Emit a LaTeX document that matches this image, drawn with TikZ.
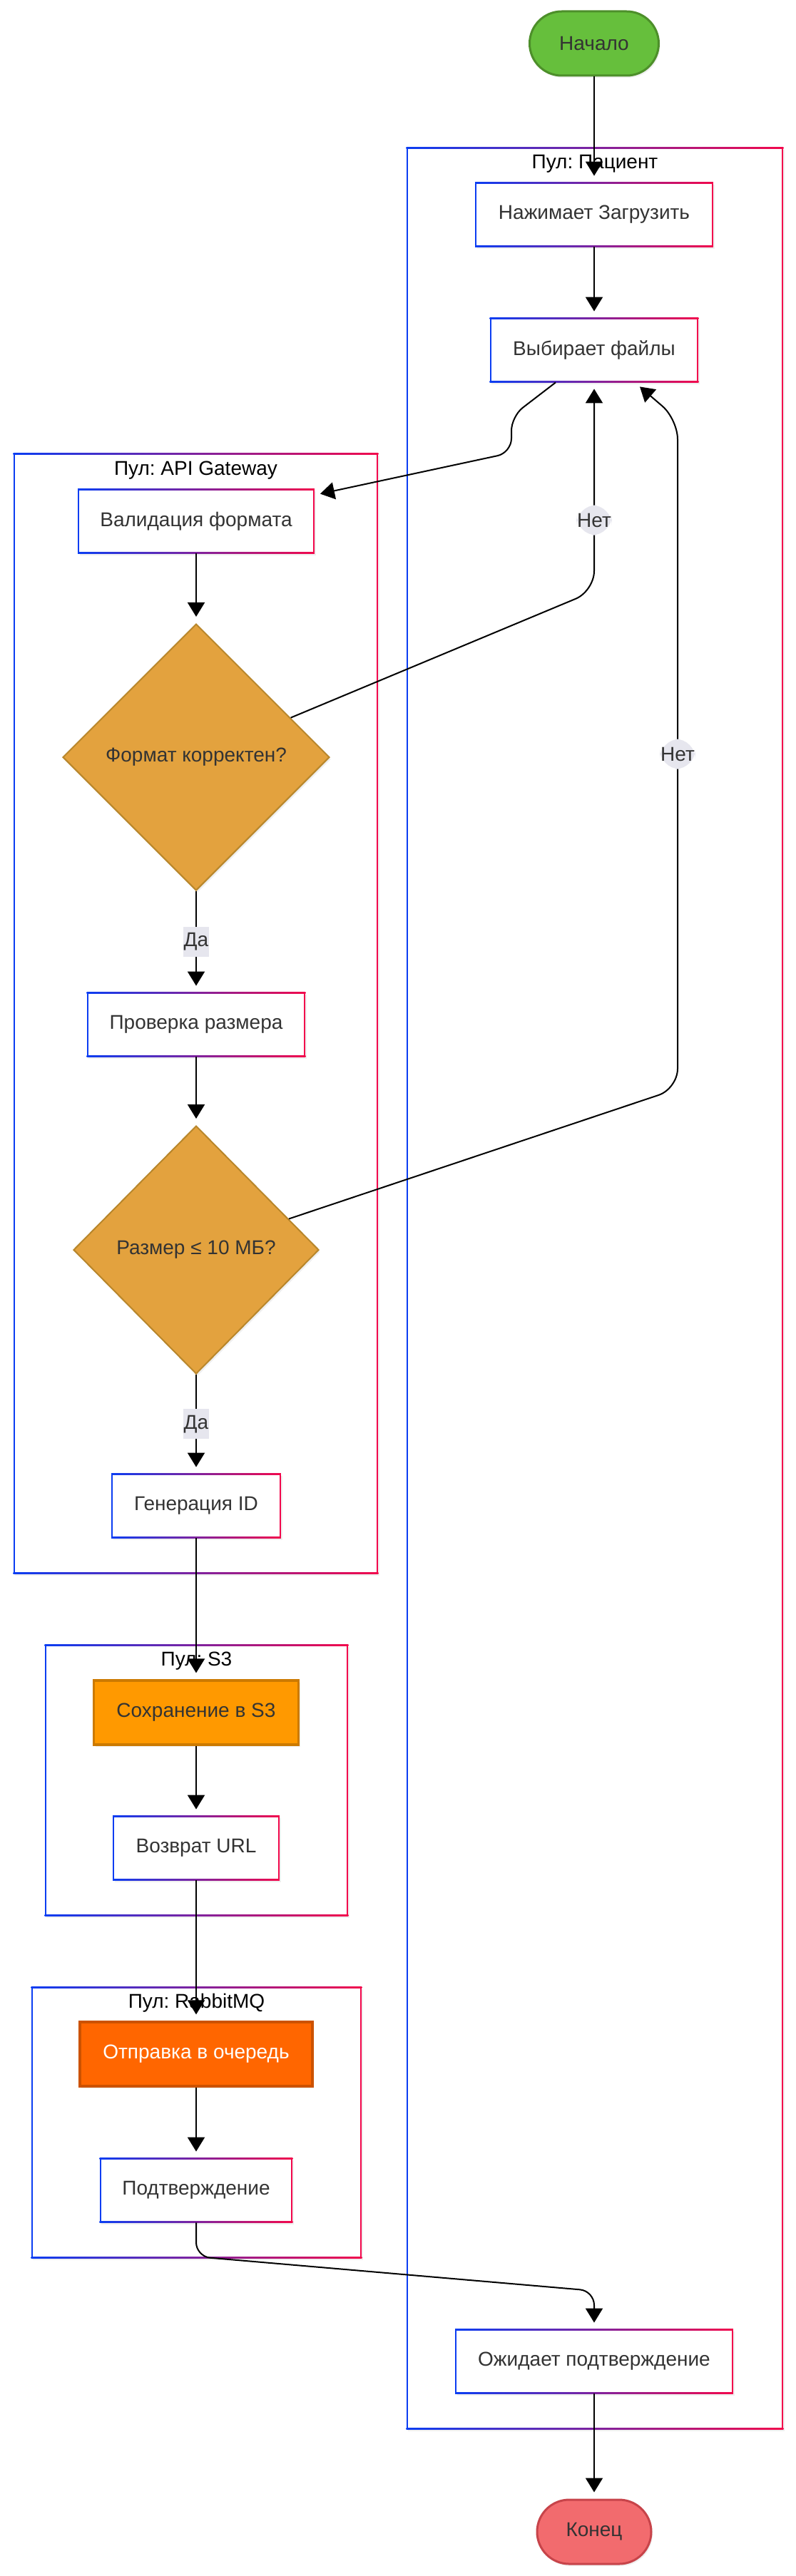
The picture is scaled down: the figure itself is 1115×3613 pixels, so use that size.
\documentclass[tikz,border=0pt]{standalone}
\usepackage{fontspec}
\setmainfont{Liberation Sans}
\usepackage{tikz}
\usetikzlibrary{positioning, arrows.meta, shapes.geometric, shadows}
\frenchspacing

\definecolor{gblue}{HTML}{0B3DF2}
\definecolor{gred}{HTML}{F2084C}
\definecolor{txt}{HTML}{333333}
\definecolor{startfill}{HTML}{66BF3C}
\definecolor{startdraw}{HTML}{4D8F2A}
\definecolor{endfill}{HTML}{F26B6E}
\definecolor{enddraw}{HTML}{C7444A}
\definecolor{decfill}{HTML}{E3A23E}
\definecolor{decdraw}{HTML}{B8862B}
\definecolor{s3fill}{HTML}{FF9900}
\definecolor{s3draw}{HTML}{CC7A00}
\definecolor{mqfill}{HTML}{FF6600}
\definecolor{mqdraw}{HTML}{CC5200}
\definecolor{lblbg}{HTML}{E6E6EE}

% blue-to-red frame round a node
\newcommand{\gframe}[1]{%
  \shade[left color=gblue, right color=gred] (#1.north west) rectangle ([yshift=-1pt]#1.north east);
  \shade[left color=gblue, right color=gred] ([yshift=1pt]#1.south west) rectangle (#1.south east);
  \fill[gblue] (#1.south west) rectangle ([xshift=1pt]#1.north west);
  \fill[gred] ([xshift=-1pt]#1.south east) rectangle (#1.north east);}

\begin{document}
\begin{tikzpicture}[x=0.5pt, y=-0.5pt,
  txtfont/.style={font=\fontsize{14}{16}\selectfont},
  shad/.style={drop shadow={opacity=0.12, shadow xshift=1pt, shadow yshift=-1.5pt}},
  pool/.style={rectangle, fill=white, inner sep=0pt, shad},
  ptitle/.style={anchor=base, text=black, txtfont, inner sep=0pt},
  box/.style={rectangle, fill=white, text=txt, txtfont, minimum height=45pt, inner sep=0pt, shad},
  term/.style={rectangle, rounded corners=22.5pt, line width=1.5pt, text=txt, txtfont, minimum height=45pt, inner sep=0pt, shad},
  decision/.style={diamond, aspect=1, fill=decfill, draw=decdraw, line width=1pt, text=txt, txtfont, inner sep=0pt, shad},
  lbl/.style={fill=lblbg, text=txt, txtfont, inner xsep=0.5pt, inner ysep=0pt, minimum height=21pt},
  arr/.style={-{Triangle[length=10pt, width=12pt]}, line width=1pt, black, shorten >=4.5pt}]
\useasboundingbox (0,0) rectangle (1115,3613);
\fill[white] (0,0) rectangle (1115,3613);

% pools
\node[pool, minimum width=264pt, minimum height=1600pt] (pPat) at (834,1807) {};
\node[pool, minimum width=255.5pt, minimum height=785.5pt] (pApi) at (274.5,1421.5) {};
\node[pool, minimum width=212.5pt, minimum height=190pt] (pS3) at (275.5,2497) {};
\node[pool, minimum width=231.5pt, minimum height=190pt] (pRab) at (275.5,2977) {};
\foreach \p in {pPat,pApi,pS3,pRab} {\gframe{\p}}
\node[ptitle] (tPat) at ([yshift=-15pt]pPat.north) {Пул: Пациент};
\node[ptitle] (tApi) at ([yshift=-15.5pt]pApi.north) {Пул: API Gateway};
\node[ptitle] (tS3) at ([yshift=-15pt]pS3.north) {Пул: S3};
\node[ptitle] (tRab) at ([yshift=-15pt]pRab.north) {Пул: RabbitMQ};

% start / end
\node[term, fill=startfill, draw=startdraw, minimum width=90.5pt] (start) at (833,61) {Начало};
\node[term, fill=endfill, draw=enddraw, minimum width=80pt] (end) at (833,3551) {Конец};

% patient
\node[box, minimum width=166.5pt] (nazh) at (833,301) {Нажимает Загрузить};
\node[box, minimum width=146pt] (vyb) at (833,491) {Выбирает файлы};
\node[box, minimum width=194.5pt] (wait) at (833,3312) {Ожидает подтверждение};

% api gateway
\node[box, minimum width=165.5pt] (valid) at (275,731) {Валидация формата};
\node[decision, minimum width=187pt, minimum height=187pt] (fmt) at (275,1062) {Формат корректен?};
\node[box, minimum width=153pt] (prov) at (275,1437) {Проверка размера};
\node[decision, minimum width=172pt, minimum height=174pt] (razm) at (275,1753) {Размер ≤ 10 МБ?};
\node[box, minimum width=118.5pt] (gen) at (275,2112) {Генерация ID};

% s3
\node[box, fill=s3fill, draw=s3draw, line width=1.6pt, minimum width=143.5pt] (save) at (275,2402) {Сохранение в S3};
\node[box, minimum width=116.5pt] (url) at (275,2592) {Возврат URL};

% rabbitmq
\node[box, fill=mqfill, draw=mqdraw, line width=1.6pt, text=white, minimum width=163pt] (send) at (275,2881) {Отправка в очередь};
\node[box, minimum width=135pt] (podtv) at (275,3072) {Подтверждение};

\foreach \n in {nazh,vyb,wait,valid,prov,gen,url,podtv} {\gframe{\n}}

% arrows
\draw[arr] (start) -- (nazh);
\draw[arr] (nazh) -- (vyb);
\draw[arr, shorten >=0pt, rounded corners=10pt] ([xshift=-27pt]vyb.south) -- (717,584) -- (717,635) -- ([shift={(4pt,-3.5pt)}]valid.north east);
\draw[arr] (valid) -- (fmt);
\draw[arr] (fmt) -- node[lbl] {Да} (prov);
\draw[arr] (prov) -- (razm);
\draw[arr] (razm) -- node[lbl] {Да} (gen);
\draw[arr] (gen) -- (save);
\draw[arr] (save) -- (url);
\draw[arr] (url) -- (send);
\draw[arr] (send) -- (podtv);
\draw[arr, rounded corners=10pt] (podtv) -- (275,3165) -- (833,3213) -- (wait);
\draw[arr] (wait) -- (end);
% no-branches back to file choice
\draw[arr, rounded corners=14pt] (fmt) -- (833,829) -- (vyb.south) node[lbl, pos=0.34] {Нет};
\draw[arr, shorten >=0pt, rounded corners=14pt] (razm) -- (950,1527) -- node[lbl] {Нет} (950,588) -- ([shift={(32pt,-3pt)}]vyb.south);
\end{tikzpicture}
\end{document}
